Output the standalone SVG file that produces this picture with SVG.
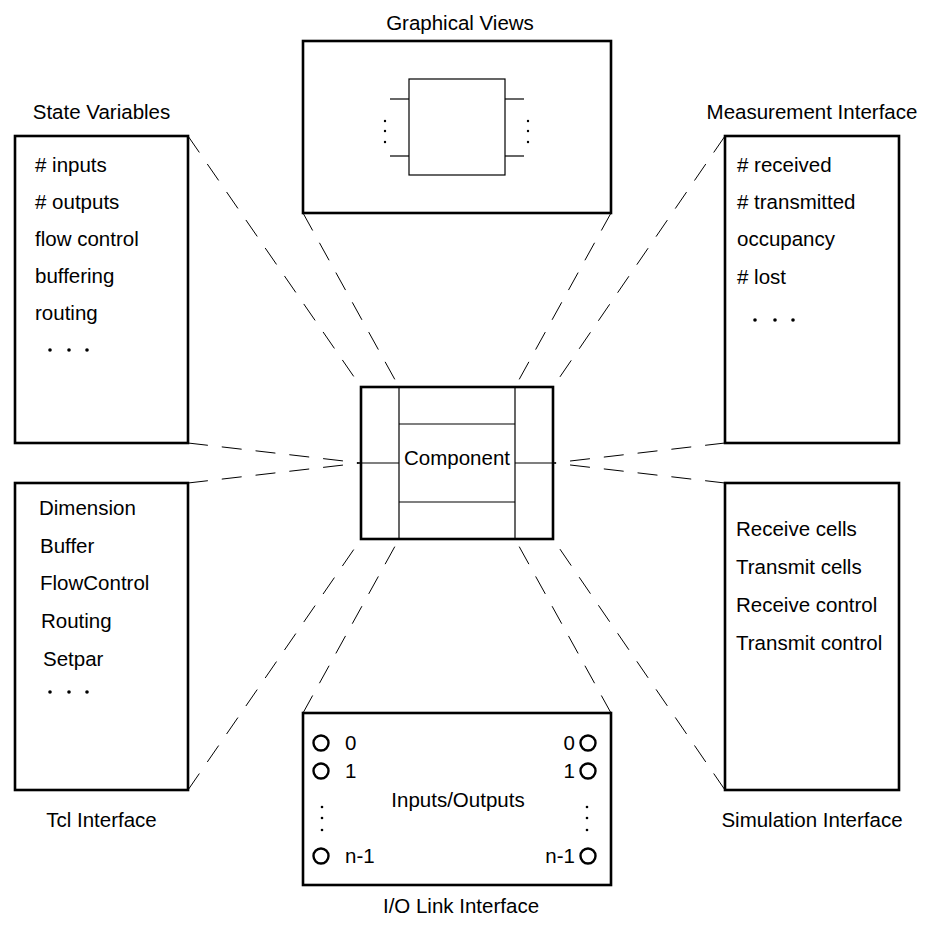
<svg xmlns="http://www.w3.org/2000/svg" width="927" height="928" viewBox="0 0 927 928">
<style>
text{font-family:"Liberation Sans",Arial,sans-serif;font-size:20.5px;fill:#000}
.box{fill:#fff;stroke:#000;stroke-width:2.6}
.thin{fill:none;stroke:#000;stroke-width:1.2}
.dash{fill:none;stroke:#000;stroke-width:1;stroke-dasharray:20 14}
.mid{text-anchor:middle}
.end{text-anchor:end}
.port{fill:#fff;stroke:#000;stroke-width:2.4}
</style>
<rect width="927" height="928" fill="#fff"/>
<g id="connectors">
<line class="dash" x1="188" y1="136" x2="361" y2="387"/>
<line class="dash" x1="303" y1="213" x2="399" y2="387"/>
<line class="dash" x1="611" y1="213" x2="515" y2="387"/>
<line class="dash" x1="725" y1="136" x2="553" y2="387"/>
<line class="dash" x1="188" y1="443" x2="361" y2="463"/>
<line class="dash" x1="188" y1="483" x2="361" y2="463"/>
<line class="dash" x1="725" y1="443" x2="553" y2="463"/>
<line class="dash" x1="725" y1="483" x2="553" y2="463"/>
<line class="dash" x1="188" y1="790" x2="361" y2="539"/>
<line class="dash" x1="303" y1="713" x2="399" y2="539"/>
<line class="dash" x1="611" y1="713" x2="515" y2="539"/>
<line class="dash" x1="725" y1="790" x2="553" y2="539"/>
</g>
<g id="graphical-views">
<text class="mid" x="460" y="30">Graphical Views</text>
<rect class="box" x="303" y="41" width="308" height="172"/>
<rect class="thin" x="409" y="79" width="96" height="96"/>
<line class="thin" x1="390" y1="99" x2="409" y2="99"/>
<line class="thin" x1="390" y1="156" x2="409" y2="156"/>
<line class="thin" x1="505" y1="99" x2="524" y2="99"/>
<line class="thin" x1="505" y1="156" x2="524" y2="156"/>
<circle cx="385" cy="121" r="1.2"/><circle cx="385" cy="131" r="1.2"/><circle cx="385" cy="142" r="1.2"/>
<circle cx="528" cy="121" r="1.2"/><circle cx="528" cy="131" r="1.2"/><circle cx="528" cy="142" r="1.2"/>
</g>
<g id="state-variables">
<text class="mid" x="101.5" y="119">State Variables</text>
<rect class="box" x="15" y="136" width="173" height="307"/>
<text x="35" y="172"># inputs</text>
<text x="35" y="209"># outputs</text>
<text x="35" y="246">flow control</text>
<text x="35" y="283">buffering</text>
<text x="35" y="320">routing</text>
<circle cx="50" cy="350" r="1.8"/><circle cx="69" cy="350" r="1.8"/><circle cx="87" cy="350" r="1.8"/>
</g>
<g id="measurement-interface">
<text class="mid" x="812" y="119">Measurement Interface</text>
<rect class="box" x="725" y="136" width="174" height="307"/>
<text x="737" y="172"># received</text>
<text x="737" y="209"># transmitted</text>
<text x="737" y="246">occupancy</text>
<text x="737" y="284"># lost</text>
<circle cx="755" cy="320" r="1.8"/><circle cx="775" cy="320" r="1.8"/><circle cx="793" cy="320" r="1.8"/>
</g>
<g id="component">
<rect class="box" x="361" y="387" width="192" height="152"/>
<line class="thin" x1="399" y1="387" x2="399" y2="539"/>
<line class="thin" x1="515" y1="387" x2="515" y2="539"/>
<line class="thin" x1="399" y1="424" x2="515" y2="424"/>
<line class="thin" x1="399" y1="502" x2="515" y2="502"/>
<line class="thin" x1="361" y1="463" x2="399" y2="463"/>
<line class="thin" x1="515" y1="463" x2="553" y2="463"/>
<text class="mid" x="457" y="465">Component</text>
</g>
<g id="tcl-interface">
<rect class="box" x="15" y="483" width="173" height="307"/>
<text x="39" y="515">Dimension</text>
<text x="40" y="553">Buffer</text>
<text x="40" y="590">FlowControl</text>
<text x="41" y="628">Routing</text>
<text x="43" y="666">Setpar</text>
<circle cx="50" cy="692" r="1.8"/><circle cx="69" cy="692" r="1.8"/><circle cx="87" cy="692" r="1.8"/>
<text class="mid" x="101.5" y="827">Tcl Interface</text>
</g>
<g id="simulation-interface">
<rect class="box" x="725" y="483" width="174" height="307"/>
<text x="736" y="536">Receive cells</text>
<text x="736" y="574">Transmit cells</text>
<text x="736" y="612">Receive control</text>
<text x="736" y="650">Transmit control</text>
<text class="mid" x="812" y="827">Simulation Interface</text>
</g>
<g id="io-link-interface">
<rect class="box" x="303" y="713" width="308" height="172"/>
<circle class="port" cx="321" cy="743" r="7.5"/>
<circle class="port" cx="321" cy="771" r="7.5"/>
<circle class="port" cx="321" cy="856" r="7.5"/>
<circle class="port" cx="588" cy="743" r="7.5"/>
<circle class="port" cx="588" cy="771" r="7.5"/>
<circle class="port" cx="588" cy="856" r="7.5"/>
<text x="345" y="750">0</text>
<text x="345" y="778">1</text>
<text x="345" y="863">n-1</text>
<text class="end" x="575" y="750">0</text>
<text class="end" x="575" y="778">1</text>
<text class="end" x="575" y="863">n-1</text>
<circle cx="322" cy="807" r="1.3"/><circle cx="322" cy="818" r="1.3"/><circle cx="322" cy="830" r="1.3"/>
<circle cx="587" cy="807" r="1.3"/><circle cx="587" cy="818" r="1.3"/><circle cx="587" cy="830" r="1.3"/>
<text class="mid" x="458" y="807">Inputs/Outputs</text>
<text class="mid" x="461" y="913">I/O Link Interface</text>
</g>
</svg>
